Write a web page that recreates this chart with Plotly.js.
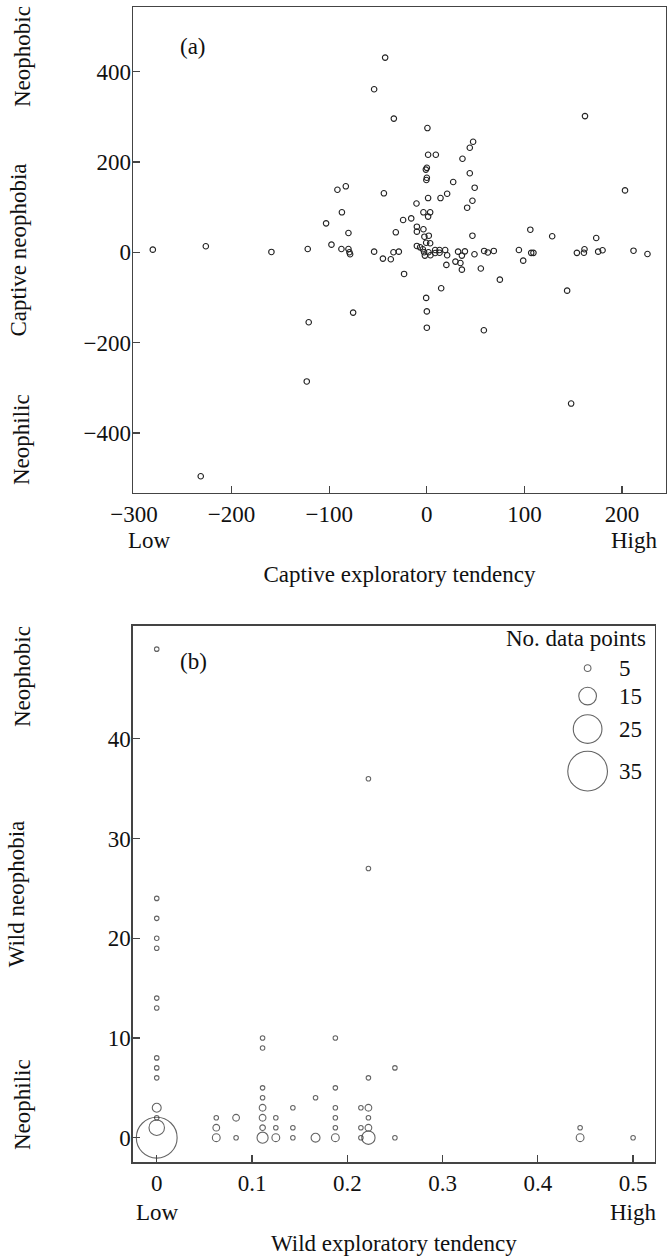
<!DOCTYPE html>
<html>
<head>
<meta charset="utf-8">
<script src="https://cdn.plot.ly/plotly-3.0.1.min.js"></script>
<style>
  html, body { margin: 0; padding: 0; background: #ffffff; }
  #chart { width: 672px; height: 1256px; }
</style>
</head>
<body>
<div id="chart"></div>
<script>
// ---- Panel (a): captive exploratory tendency vs captive neophobia ----
const captiveExploration = [
  -280.7, -226.4, -159.2, -122, -97.7, -103.2, -91.6, -83, -87, -80.3,
  -87.5, -80.3, -79.3, -78.6, -54, -45, -36.9, -34.2, -28.7, -31.8,
  -23.3, -24.3, -16, -10.6, -10.2, -10.2, -3.5, -42.7, -54, -33.8,
  -44, 0.6, 47.4, 44, 1.3, 9.2, 36.5, 0, -1, 0,
  -0.5, 44, 27, 49, 203, 162, 20.8, 14, 1.3, 46.7,
  41.3, -3.5, 3.4, 1.3, 46.7, -2.5, 2, -0.7, 3.4, 106,
  128.4, 173.5, -10.2, -6.9, -4.1, -2.8, -2, 1.7, 3.7, 8.5,
  8.5, 13, 13, 18.8, 20.8, 32, 39, 35.9, 29.3, 34.4,
  35.9, 20, 48.8, 58.7, 62.5, 68.6, 55.3, 74.8, 14.7, 94.3,
  98.7, 106.9, 109.2, 153.7, 160.9, 161.5, 175.5, 180, 211.7, 226,
  143.7, -0.7, 0, 0, 58.4, -75.5, -121, -123, 147.8, -231.6
];
const captiveNeophobia = [
  5.8, 13.3, 0.7, 7.3, 16.8, 64, 138.5, 146, 88.5, 42.7,
  7.3, 7.3, 0, -4.4, 1.3, -14, -15.5, 0, 1.3, 44.2,
  -48, 71.5, 75, 108, 56.6, 45.6, 51, 431, 361, 296,
  130.5, 275, 244.7, 231.4, 216, 216, 207, 187, 183, 165,
  160, 175, 155.5, 143, 137, 301.5, 129.6, 120, 120, 114,
  98.7, 88.5, 88.5, 79, 36.7, 34.5, 36.7, 21, 20, 50,
  35.4, 31.6, 14, 11, 6.6, 0, -7.4, 0, -6.6, 5,
  -1.6, 5, -1.1, 5, -6.6, 1.3, 2, -7.4, -20.7, -23.7,
  -38.5, -28, -4.4, 2.9, -0.4, 2.9, -36, -60.6, -79.7, 5,
  -18.6, -1.3, -1.3, -1.3, -1, 6.6, 1.3, 4.4, 3.5, -3.8,
  -85, -101, -131, -167, -172.6, -133.6, -155, -286, -335, -496
];
const captiveXTicks = [-300, -200, -100, 0, 100, 200];
const captiveYTicks = [-400, -200, 0, 200, 400];

// ---- Panel (b): wild exploratory tendency vs wild neophobia (circle size = no. data points) ----
const wildExploration = [
  0, 0, 0, 0, 0, 0, 0, 0, 0, 0, 0, 0, 0, 0,
  0.0625, 0.0625, 0.0625,
  0.0833, 0.0833,
  0.1111, 0.1111, 0.1111, 0.1111, 0.1111, 0.1111, 0.1111, 0.1111,
  0.125, 0.125, 0.125,
  0.1429, 0.1429, 0.1429,
  0.1667, 0.1667,
  0.1875, 0.1875, 0.1875, 0.1875, 0.1875, 0.1875,
  0.2143, 0.2143, 0.2143,
  0.2222, 0.2222, 0.2222, 0.2222, 0.2222, 0.2222, 0.2222,
  0.25, 0.25,
  0.4444, 0.4444,
  0.5
];
const wildNeophobia = [
  49, 24, 22, 20, 19, 14, 13, 8, 7, 6, 3, 2, 1, 0,
  2, 1, 0,
  2, 0,
  10, 9, 5, 4, 3, 2, 1, 0,
  2, 1, 0,
  3, 1, 0,
  4, 0,
  10, 5, 3, 2, 1, 0,
  3, 1, 0,
  36, 27, 6, 3, 2, 1, 0,
  7, 0,
  1, 0,
  0
];
const wildCounts = [
  3, 3, 3, 3, 3, 3, 3, 3, 3, 3, 7, 3, 13, 36,
  3, 5, 6,
  5, 3,
  3, 3, 3, 3, 5, 5, 4, 9,
  3, 3, 6,
  3, 3, 3,
  3, 7,
  3, 3, 3, 3, 3, 6,
  3, 3, 3,
  3, 3, 3, 5, 3, 5, 11,
  3, 3,
  3, 6,
  3
];
const wildXTicks = [0, 0.1, 0.2, 0.3, 0.4, 0.5];
const wildYTicks = [0, 10, 20, 30, 40];
const sizeLegendValues = [5, 15, 25, 35];

// ---- styling ----
const FONT = 'Liberation Serif, Times New Roman, serif';
const INK = '#111111';
const AXIS = '#444444';
const markerDiameter = n => 1.1 * n + 1.2;

const legendX = 0.871;
const legendY = [0.921, 0.869, 0.8075, 0.729];

const traces = [
  {
    type: 'scatter', mode: 'markers', xaxis: 'x', yaxis: 'y',
    x: captiveExploration, y: captiveNeophobia,
    marker: { symbol: 'circle-open', size: 5.5, color: '#222', line: { width: 1.1, color: '#222' } },
    showlegend: false, hoverinfo: 'x+y'
  },
  {
    type: 'scatter', mode: 'markers', xaxis: 'x2', yaxis: 'y2',
    x: wildExploration, y: wildNeophobia,
    marker: { symbol: 'circle-open', size: wildCounts.map(markerDiameter), sizemode: 'diameter',
              color: '#222', line: { width: 1.1, color: '#222' } },
    cliponaxis: false, showlegend: false, hoverinfo: 'x+y'
  },
  {
    type: 'scatter', mode: 'markers', xaxis: 'x3', yaxis: 'y3',
    x: sizeLegendValues.map(() => legendX), y: legendY,
    marker: { symbol: 'circle-open', size: sizeLegendValues.map(markerDiameter), sizemode: 'diameter',
              color: '#222', line: { width: 1.1, color: '#222' } },
    cliponaxis: false, showlegend: false, hoverinfo: 'skip'
  }
];

const tickFont = { family: FONT, size: 23, color: INK };
const titleFont = { family: FONT, size: 23, color: INK };
const axisCommon = {
  showline: true, linecolor: AXIS, linewidth: 1.3, mirror: true,
  ticks: 'inside', ticklen: 7, tickwidth: 1.2, tickcolor: AXIS,
  showgrid: false, zeroline: false, tickfont: tickFont, automargin: false
};

const W = 672, H = 1256;
const px = v => v / W;
const py = v => 1 - v / H;

const annotations = [
  { text: '(a)', x: px(193), y: py(46) },
  { text: '(b)', x: px(194), y: py(661) },
  { text: 'Low', x: px(149), y: py(540) },
  { text: 'High', x: px(634), y: py(540) },
  { text: 'Low', x: px(157), y: py(1212) },
  { text: 'High', x: px(633), y: py(1212) },
  { text: 'Neophobic', x: px(22), y: py(57), textangle: -90 },
  { text: 'Neophilic', x: px(22), y: py(440), textangle: -90 },
  { text: 'Neophobic', x: px(22), y: py(677), textangle: -90 },
  { text: 'Neophilic', x: px(22), y: py(1105), textangle: -90 },
  { text: 'No. data points', x: px(648), y: py(638), xanchor: 'right' }
].map(a => Object.assign({ xref: 'paper', yref: 'paper', showarrow: false, xanchor: 'center', yanchor: 'middle',
                           font: { family: FONT, size: 23, color: INK } }, a));

sizeLegendValues.forEach((v, i) => {
  annotations.push({
    xref: 'paper', yref: 'paper', showarrow: false, xanchor: 'left', yanchor: 'middle',
    x: px(617), y: 0.0746 + legendY[i] * (0.5018 - 0.0746),
    text: String(v), font: { family: FONT, size: 23, color: INK }
  });
});

const layout = {
  width: W, height: H,
  margin: { l: 0, r: 0, t: 0, b: 0 },
  paper_bgcolor: '#ffffff', plot_bgcolor: 'rgba(0,0,0,0)',
  font: { family: FONT, color: INK },
  showlegend: false,
  xaxis: Object.assign({}, axisCommon, {
    domain: [0.1979, 0.9911], anchor: 'y', range: [-301, 245],
    tickvals: captiveXTicks,
    title: { text: 'Captive exploratory tendency', font: titleFont, standoff: 40 }
  }),
  yaxis: Object.assign({}, axisCommon, {
    domain: [0.6075, 0.9944], anchor: 'x', range: [-533, 543],
    tickvals: captiveYTicks, ticklabelstandoff: -4,
    title: { text: 'Captive neophobia', font: titleFont, standoff: 50 }
  }),
  xaxis2: Object.assign({}, axisCommon, {
    domain: [0.1975, 0.9747], anchor: 'y2', range: [-0.0252, 0.523],
    tickvals: wildXTicks,
    title: { text: 'Wild exploratory tendency', font: titleFont, standoff: 40 }
  }),
  yaxis2: Object.assign({}, axisCommon, {
    domain: [0.0746, 0.5018], anchor: 'x2', range: [-2.47, 51.35],
    tickvals: wildYTicks, ticklabelstandoff: -4,
    title: { text: 'Wild neophobia', font: titleFont, standoff: 76 }
  }),
  xaxis3: { overlaying: 'x2', anchor: 'y3', range: [0, 1], visible: false, fixedrange: true },
  yaxis3: { overlaying: 'y2', anchor: 'x3', range: [0, 1], visible: false, fixedrange: true },
  annotations: annotations
};

Plotly.newPlot('chart', traces, layout, { displayModeBar: false, staticPlot: true });
</script>
</body>
</html>
